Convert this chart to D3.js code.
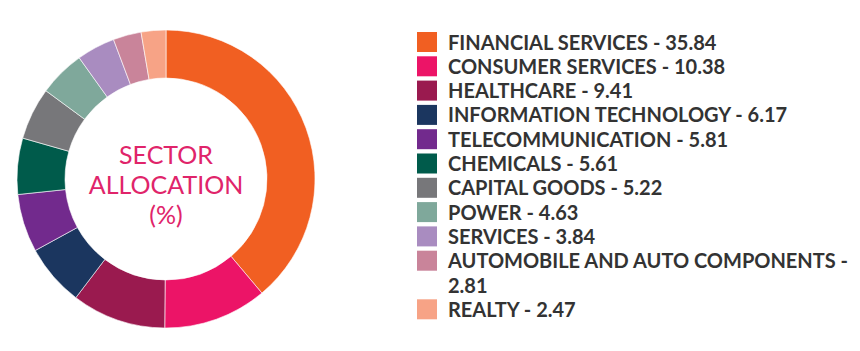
<!DOCTYPE html>
<html>
<head>
<meta charset="utf-8">
<script src="https://cdn.jsdelivr.net/npm/d3@7"></script>
<style>
  body { margin: 0; background: #fff; }
  svg { display: block; }
</style>
</head>
<body>
<div id="chart"></div>
<script>
const sectors = [
  'FINANCIAL SERVICES', 'CONSUMER SERVICES', 'HEALTHCARE', 'INFORMATION TECHNOLOGY',
  'TELECOMMUNICATION', 'CHEMICALS', 'CAPITAL GOODS', 'POWER', 'SERVICES',
  'AUTOMOBILE AND AUTO COMPONENTS', 'REALTY',
];
const values = [35.84, 10.38, 9.41, 6.17, 5.81, 5.61, 5.22, 4.63, 3.84, 2.81, 2.47];
const colors = [
  '#f15f22', '#ec1467', '#9a1a4f', '#1b365f', '#722a8d', '#005b4b',
  '#77777a', '#7fa89b', '#a98cc0', '#c9849a', '#f7a386',
];
const centerLines = ['SECTOR', 'ALLOCATION', '(%)'];

const width = 860;
const height = 351;

const svg = d3.select('#chart').append('svg')
  .attr('width', width)
  .attr('height', height);

const data = sectors.map((name, i) => ({ name, value: values[i], color: colors[i] }));

// donut
const cx = 166;
const cy = 179;
const outerR = 149;
const innerR = 101;

const pie = d3.pie().sort(null).value((d) => d.value);
const arc = d3.arc().innerRadius(innerR).outerRadius(outerR);

const donut = svg.append('g')
  .attr('transform', `translate(${cx},${cy})`);

donut.selectAll('path')
  .data(pie(data))
  .enter()
  .append('path')
  .attr('d', arc)
  .attr('fill', (d) => d.data.color)
  .attr('stroke', '#fff')
  .attr('stroke-width', 0.6);

donut.append('text')
  .attr('text-anchor', 'middle')
  .attr('font-family', 'Lato, sans-serif')
  .attr('font-size', 25)
  .attr('fill', '#e0246a')
  .selectAll('tspan')
  .data(centerLines)
  .enter()
  .append('tspan')
  .attr('x', 0)
  .attr('y', (d, i) => -15.5 + i * 30)
  .text((d) => d);

// legend
const legendX = 417;
const textX = 448;
const rowTop = 32;
const rowH = 24.3;
const maxTextW = 405;

const legend = svg.append('g')
  .attr('font-family', 'Lato, sans-serif')
  .attr('font-weight', 'bold')
  .attr('font-size', 20)
  .attr('fill', '#333');

let line = 0;
data.forEach((d) => {
  const y = rowTop + line * rowH;
  legend.append('rect')
    .attr('x', legendX)
    .attr('y', y)
    .attr('width', 20)
    .attr('height', 20)
    .attr('fill', d.color);

  // wrap long labels onto a second line, like the original
  const label = `${d.name} - ${d.value.toFixed(2)}`;
  const words = label.split(' ');
  const text = legend.append('text')
    .attr('x', textX)
    .attr('y', y + 17.5);
  let tspan = text.append('tspan').attr('x', textX);
  let current = [];
  words.forEach((w) => {
    current.push(w);
    tspan.text(current.join(' '));
    if (tspan.node().getComputedTextLength() > maxTextW && current.length > 1) {
      current.pop();
      tspan.text(current.join(' '));
      current = [w];
      line += 1;
      tspan = text.append('tspan').attr('x', textX).attr('dy', rowH).text(w);
    }
  });
  line += 1;
});
</script>
</body>
</html>
